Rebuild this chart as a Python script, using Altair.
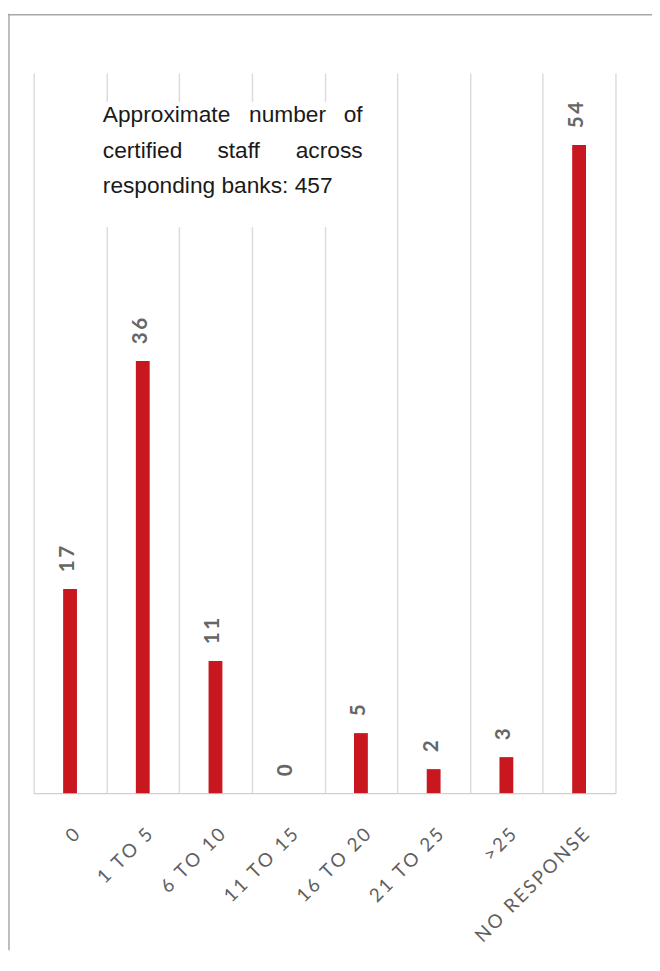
import altair as alt
import pandas as pd

categories = ["0", "1 TO 5", "6 TO 10", "11 TO 15", "16 TO 20", "21 TO 25", ">25", "NO RESPONSE"]
values = [17, 36, 11, 0, 5, 2, 3, 54]

line1_words = ["Approximate", "number", "of"]
line2_words = ["certified", "staff", "across"]
line3_text = "responding banks: 457"

df = pd.DataFrame({"cat": categories, "val": values})

W, H = 589, 729
PAD = {"left": 26, "top": 60, "right": 37, "bottom": 159}

RED = "#c8171e"
GRAY = "#5f5f5f"

x_enc = alt.X(
    "cat:N",
    sort=categories,
    scale=alt.Scale(paddingInner=0, paddingOuter=0),
    axis=alt.Axis(
        title=None,
        labelAngle=-45,
        ticks=False,
        grid=True,
        tickBand="extent",
        gridColor="#dcdcdc",
        gridWidth=1.5,
        domainColor="#d0d0d0",
        domainWidth=1.5,
        labelFont="Lato",
        labelFontSize=19,
        labelColor=GRAY,
        labelPadding=32,
        labelExpr="join(split(datum.label, ''), '\u2009')",
    ),
)
y_enc = alt.Y("val:Q", scale=alt.Scale(domain=[0, 60]), axis=None)

base = alt.Chart(df).encode(x=x_enc, y=y_enc)

bars = base.mark_bar(size=14, color=RED)
labels = base.transform_calculate(
    lbl="join(split(toString(datum.val), ''), '\u2009')"
).mark_text(
    angle=270, align="left", baseline="middle", dx=17, dy=-2,
    font="Lato", fontSize=21, fontWeight="bold", color="#666666",
).encode(text="lbl:N")

one = pd.DataFrame({"a": [0]})
box = alt.Chart(one).mark_rect(color="white").encode(
    x=alt.value(66), x2=alt.value(338), y=alt.value(29), y2=alt.value(156)
)

NOTE_FONT = dict(font="Liberation Sans", fontSize=23, color="#1a1a1a", baseline="alphabetic")

def word(txt, xpos, ypos, align):
    return alt.Chart(one).mark_text(align=align, text=txt, **NOTE_FONT).encode(
        x=alt.value(xpos), y=alt.value(ypos)
    )

note = [
    word(line1_words[0], 70, 50, "left"),
    word(line1_words[1], 257, 50, "center"),
    word(line1_words[2], 333, 50, "right"),
    word(line2_words[0], 70, 85.5, "left"),
    word(line2_words[1], 207.5, 85.5, "center"),
    word(line2_words[2], 333, 85.5, "right"),
    word(line3_text, 70, 121, "left"),
]

border_top = alt.Chart(one).mark_rule(color="#a8a8a8", strokeWidth=1.5).encode(
    x=alt.value(-26), x2=alt.value(W + PAD["right"]), y=alt.value(-59)
)
border_left = alt.Chart(one).mark_rule(color="#a8a8a8", strokeWidth=1.5).encode(
    x=alt.value(-25), y=alt.value(-60), y2=alt.value(H + PAD["bottom"])
)

chart = alt.layer(bars, labels, box, *note, border_top, border_left).properties(
    width=W, height=H, autosize="none", padding=PAD
).configure_view(stroke=None)

chart.save("out.html", embed_options={"renderer": "svg", "actions": False})
